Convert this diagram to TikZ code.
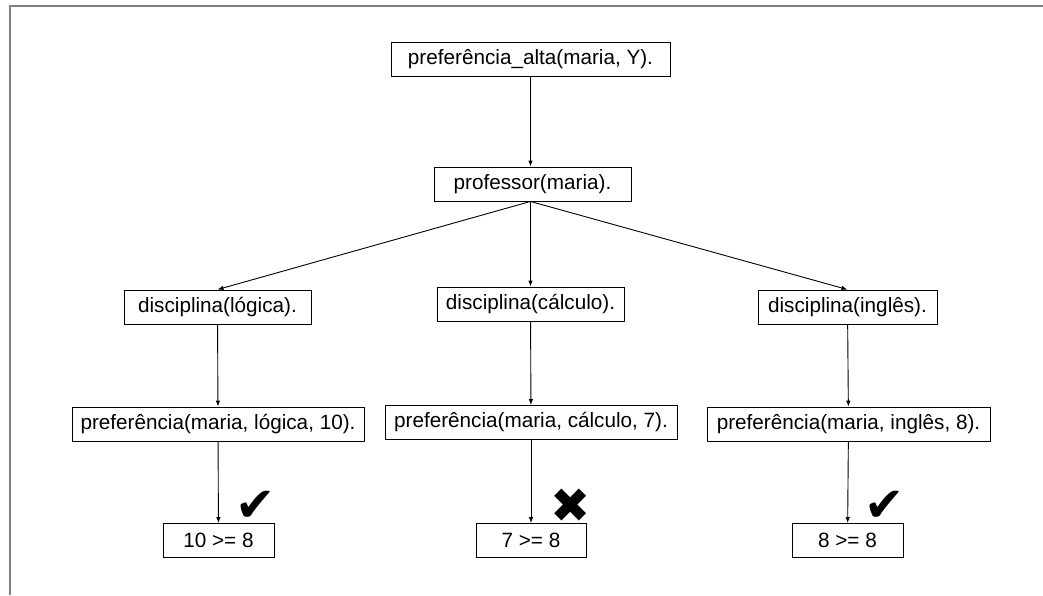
\documentclass[tikz,border=0pt]{standalone}
\usepackage{fontspec}
\setmainfont{Liberation Sans}
\newfontfamily\marcafont{DejaVu Sans}
\usetikzlibrary{arrows.meta}

\tikzset{
    caixa/.style={draw, line width=0.9pt, minimum height=34pt, inner sep=0pt,
        font=\fontsize{20.7}{24}\selectfont},
    seta/.style={-{Latex[length=6pt,width=4.5pt]}, line width=0.9pt},
    marca/.style={font=\marcafont\fontsize{48}{48}\selectfont, inner sep=0pt}
}

\begin{document}
\begin{tikzpicture}[x=1pt, y=-1pt]
                \useasboundingbox (0,0) rectangle (1043,595);
                \draw[gray, line width=2pt] (10,595) -- (10,6) -- (1043,6);

                \node[caixa, minimum width=279pt] (alta) at (530.5,59.5) {preferência\_alta(maria, Y).};
                \node[caixa, minimum width=197pt] (prof) at (532.5,184) {professor(maria).};
                \coordinate (raiz) at (alta.south |- prof.south);

                \node[caixa, minimum width=187pt] (dlog) at (217.5,307) {disciplina(lógica).};
                \node[caixa, minimum width=187pt] (dcal) at (530.5,304) {disciplina(cálculo).};
                \node[caixa, minimum width=179pt] (ding) at (847.5,307) {disciplina(inglês).};

                \node[caixa, minimum width=292pt] (plog) at (218,424) {preferência(maria, lógica, 10).};
                \node[caixa, minimum width=292pt] (pcal) at (531,422.5) {preferência(maria, cálculo, 7).};
                \node[caixa, minimum width=283pt] (ping) at (848.5,424) {preferência(maria, inglês, 8).};

                \node[caixa, minimum width=111pt] (tlog) at (218.5,540.5) {10 >= 8};
                \node[caixa, minimum width=110pt] (tcal) at (531,540.5) {7 >= 8};
                \node[caixa, minimum width=111pt] (ting) at (847.5,540.5) {8 >= 8};

                \node[marca] (mlog) at (256,506) {✔};
                \node[marca] (mcal) at (571,506) {✖};
                \node[marca] (ming) at (885,506) {✔};

                \draw[seta] (alta.south) -- (alta.south |- prof.north);
                \draw[seta] (raiz) -- (dlog.north);
                \draw[seta] (raiz) -- (dcal.north);
                \draw[seta] (raiz) -- (ding.north);
                \draw[seta] (dlog) -- (plog);
                \draw[seta] (dcal) -- (pcal);
                \draw[seta] (ding) -- (ping);
                \draw[seta] (plog) -- (tlog);
                \draw[seta] (pcal) -- (tcal);
                \draw[seta] (ping) -- (ting);
            \end{tikzpicture}
\end{document}
